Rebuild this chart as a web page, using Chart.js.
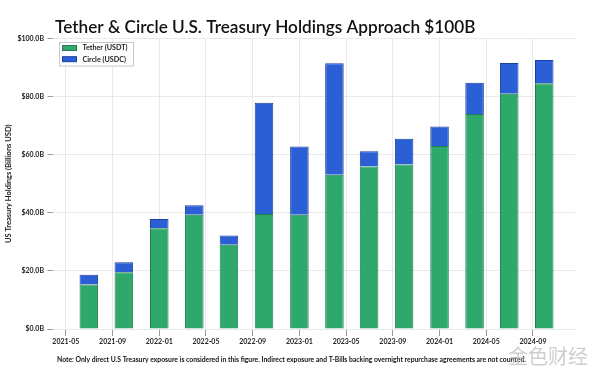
<!DOCTYPE html>
<html>
<head>
<meta charset="utf-8">
<script src="https://cdn.jsdelivr.net/npm/chart.js@4.4.1/dist/chart.umd.min.js"></script>
<style>
  html, body { margin: 0; padding: 0; background: #fff; }
  #wrap { width: 600px; height: 377px; position: relative; }
</style>
</head>
<body>
<div id="wrap"><canvas id="holdingsChart"></canvas></div>
<script>
// Quarter-end reporting dates (one bar each)
const quarterEnds = ['2021-06-30', '2021-09-30', '2021-12-31', '2022-03-31', '2022-06-30', '2022-09-30', '2022-12-31',
                     '2023-03-31', '2023-06-30', '2023-09-30', '2023-12-31', '2024-03-31', '2024-06-30', '2024-09-30'];
// Holdings in billions USD
const tetherUsdt = [15.3, 19.5, 34.7, 39.3, 29.0, 39.6, 39.3, 53.1, 55.9, 56.6, 63.0, 74.0, 81.0, 84.6];
const circleUsdc = [3.4, 3.5, 3.2, 3.3, 3.2, 38.3, 23.5, 38.4, 5.3, 8.9, 6.7, 10.8, 10.6, 8.0];
const xTickLabels = ['2021-05', '2021-09', '2022-01', '2022-05', '2022-09', '2023-01', '2023-05',
                     '2023-09', '2024-01', '2024-05', '2024-09'];
const yTickValues = [0, 20, 40, 60, 80, 100];

const chartTitle = 'Tether & Circle U.S. Treasury Holdings Approach $100B';
const footnote = 'Note: Only direct U.S Treasury exposure is considered in this figure. Indirect exposure and T-Bills backing overnight repurchase agreements are not counted.';

// months since 2021-01 (fractional by day)
function monthIndex(str) {
    const parts = str.split('-').map(Number);
    const day = parts[2] ? parts[2] / 31 : 0;
    return (parts[0] - 2021) * 12 + (parts[1] - 1) + day;
}

const tetherPoints = quarterEnds.map((d, i) => ({ x: monthIndex(d), y: tetherUsdt[i] }));
const circlePoints = quarterEnds.map((d, i) => ({ x: monthIndex(d), y: circleUsdc[i] }));

Chart.defaults.font.family = 'Lato, "DejaVu Sans", sans-serif';
Chart.defaults.color = '#222';

// title, legend box, footnote drawn on top
const overlay = {
    id: 'overlay',
    afterDraw(chart) {
        const ctx = chart.ctx;
        ctx.save();

        ctx.fillStyle = '#111';
        ctx.textAlign = 'left';
        ctx.textBaseline = 'alphabetic';
        ctx.font = '600 17.2px Lato';
        ctx.fillText(chartTitle, 55, 33);

        // legend
        ctx.fillStyle = '#fff';
        ctx.fillRect(59.5, 42.5, 74, 23.5);
        ctx.strokeStyle = '#c8c8c8';
        ctx.lineWidth = 1;
        ctx.strokeRect(59.5, 42.5, 74, 23.5);
        ctx.font = 'bold 7.2px Lato';
        ctx.textBaseline = 'middle';
        chart.data.datasets.forEach((ds, i) => {
            const cy = 48 + i * 11.2;
            ctx.fillStyle = ds.backgroundColor;
            ctx.fillRect(62.5, cy - 2.5, 14, 5);
            ctx.strokeStyle = ds.borderColor;
            ctx.strokeRect(62.5, cy - 2.5, 14, 5);
            ctx.fillStyle = '#222';
            ctx.fillText(ds.label, 82.5, cy);
        });

        // footnote
        ctx.fillStyle = '#111';
        ctx.font = 'bold 6.8px Lato';
        ctx.fillText(footnote, 57, 360);

        // site watermark
        ctx.fillStyle = 'rgba(190,190,190,0.75)';
        ctx.font = '20px "Noto Sans CJK SC"';
        ctx.fillText('金色财经', 508, 356);

        ctx.restore();
    }
};

const ctx = document.getElementById('holdingsChart').getContext('2d');
new Chart(ctx, {
    type: 'bar',
    data: {
        datasets: [
            {
                label: 'Tether (USDT)',
                data: tetherPoints,
                backgroundColor: '#2fa86c',
                borderColor: '#1f7f4e',
                borderWidth: 1,
                barPercentage: 0.535,
                categoryPercentage: 1,
            },
            {
                label: 'Circle (USDC)',
                data: circlePoints,
                backgroundColor: '#2b5fd6',
                borderColor: '#1a3f9e',
                borderWidth: 1,
                barPercentage: 0.535,
                categoryPercentage: 1,
            },
        ],
    },
    options: {
        responsive: true,
        maintainAspectRatio: false,
        animation: false,
        layout: {
            padding: { left: 0, right: 25, top: 38.5, bottom: 0 }
        },
        plugins: {
            legend: { display: false },
            title: { display: false },
            tooltip: { enabled: false },
        },
        scales: {
            x: {
                type: 'linear',
                stacked: true,
                offset: false,
                min: 2.9,
                max: 47.6,
                border: { display: false },
                grid: {
                    offset: false,
                    color: '#e9e9e9',
                    tickColor: '#9a9a9a',
                    tickLength: 7,
                },
                afterBuildTicks: scale => {
                    scale.ticks = xTickLabels.map(t => ({ value: monthIndex(t) }));
                },
                afterFit: scale => { scale.height = 48; },
                ticks: {
                    autoSkip: false,
                    maxRotation: 0,
                    padding: 2,
                    font: { size: 7, weight: 'bold' },
                    callback: (value, index) => xTickLabels[index],
                },
            },
            y: {
                stacked: true,
                min: 0,
                max: 100,
                border: { display: false },
                grid: {
                    color: '#e9e9e9',
                    tickColor: '#9a9a9a',
                    tickLength: 5.5,
                },
                afterBuildTicks: scale => {
                    scale.ticks = yTickValues.map(v => ({ value: v }));
                },
                afterFit: scale => { scale.width = 53; },
                title: {
                    display: true,
                    text: 'US Treasury Holdings (Billions USD)',
                    font: { size: 7.5, weight: 'bold' },
                    padding: { top: 4.5, bottom: 0 },
                },
                ticks: {
                    padding: 3.5,
                    font: { size: 7, weight: 'bold' },
                    callback: value => '$' + value.toFixed(1) + 'B',
                },
            },
        },
    },
    plugins: [overlay],
});
</script>
</body>
</html>
